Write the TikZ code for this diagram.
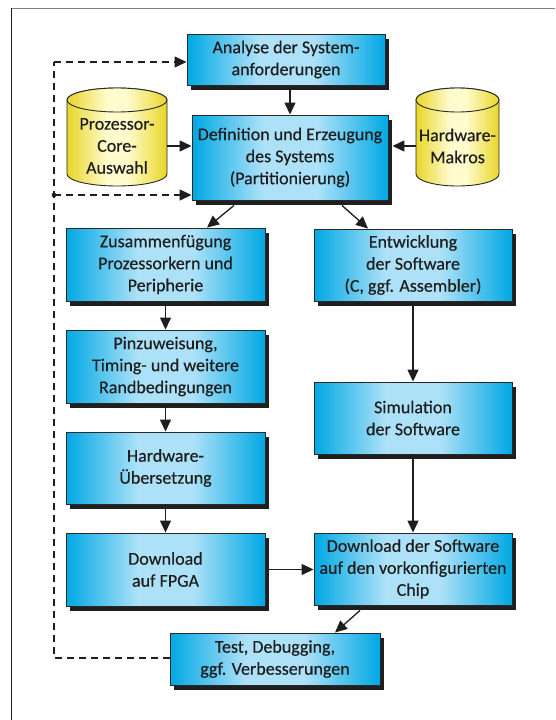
\documentclass[tikz,border=0pt]{standalone}
\usepackage{fontspec}
\setmainfont{Carlito}[FakeBold=0.35]
\usetikzlibrary{arrows.meta,shadows,calc}
\definecolor{cyE}{RGB}{0,168,228}
\definecolor{cyL}{RGB}{172,225,248}
\definecolor{yeE}{RGB}{232,214,40}
\definecolor{yeL}{RGB}{255,251,205}
\definecolor{bdr}{RGB}{40,40,40}
\definecolor{txt}{RGB}{30,30,30}
\pgfdeclarehorizontalshading{boxsh}{100bp}{color(0bp)=(cyE); color(25bp)=(cyE); color(43bp)=(cyL); color(57bp)=(cyL); color(75bp)=(cyE); color(100bp)=(cyE)}
\pgfdeclarehorizontalshading{cylsh}{100bp}{color(0bp)=(yeE); color(25bp)=(yeE); color(45bp)=(yeL); color(55bp)=(yeL); color(75bp)=(yeE); color(100bp)=(yeE)}
\tikzset{
  box/.style={draw=bdr, line width=0.9pt, shade, shading=boxsh,
    general shadow={fill=black!88, shadow xshift=4pt, shadow yshift=-5pt},
    align=center, inner sep=0pt, text=txt, font=\fontsize{18}{22}\selectfont},
  cyltext/.style={align=center, inner sep=0pt, text=txt, font=\fontsize{18}{22}\selectfont},
  cylbody/.style={draw=bdr, line width=0.9pt, shade, shading=cylsh},
  arr/.style={line width=1.3pt, draw=txt, -{Triangle[length=12pt,width=11pt]}},
  fback/.style={line width=1.3pt, draw=txt, dash pattern=on 7pt off 5pt},
  fbackarr/.style={fback, -{Triangle[length=12pt,width=11pt]}}
}
\begin{document}
\begin{tikzpicture}[x=1pt,y=-1pt]
\useasboundingbox (0,0) rectangle (555,720);
% frame
\draw[line width=1.6pt, draw=black!50] (11,8.5) -- (555,8.5);
\draw[line width=1.6pt, draw=txt] (11.5,8) -- (11.5,720);

% cylinders
\path[cylbody] (67,100) -- (67,174) arc[start angle=180, end angle=360, x radius=50pt, y radius=12pt] -- (167,100) arc[start angle=0, end angle=180, x radius=50pt, y radius=12pt] -- cycle;
\path[cylbody] (117,100) ellipse[x radius=50pt, y radius=12pt];
\node[cyltext, minimum width=100pt] (pc) at (117,146) {Prozessor-\\Core-\\Auswahl};

\path[cylbody] (416,100) -- (416,174) arc[start angle=180, end angle=360, x radius=41.5pt, y radius=12pt] -- (499,100) arc[start angle=0, end angle=180, x radius=41.5pt, y radius=12pt] -- cycle;
\path[cylbody] (457.5,100) ellipse[x radius=41.5pt, y radius=12pt];
\node[cyltext, minimum width=83pt] (hm) at (457.5,146) {Hardware-\\Makros};

% boxes
\node[box, minimum width=198pt, minimum height=51pt] (A) at (286,59.5) {Analyse der System-\\anforderungen};
\node[box, minimum width=196pt, minimum height=85pt] (D) at (290,157.5) {Definition und Erzeugung\\des Systems\\(Partitionierung)};
\node[box, minimum width=199pt, minimum height=73pt] (Z) at (165.5,264.5) {Zusammenfügung\\Prozessorkern und\\Peripherie};
\node[box, minimum width=199pt, minimum height=73pt] (P) at (165.5,366.5) {Pinzuweisung,\\Timing- und weitere\\Randbedingungen};
\node[box, minimum width=199pt, minimum height=72pt] (H) at (165.5,468) {Hardware-\\Übersetzung};
\node[box, minimum width=199pt, minimum height=73pt] (F) at (165.5,569.5) {Download\\auf FPGA};
\node[box, minimum width=198pt, minimum height=72pt] (E) at (413,265) {Entwicklung\\der Software\\(C, ggf. Assembler)};
\node[box, minimum width=198pt, minimum height=72pt] (S) at (413,418) {Simulation\\der Software};
\node[box, minimum width=198pt, minimum height=72pt] (W) at (413,569) {Download der Software\\auf den vorkonfigurierten\\Chip};
\node[box, minimum width=210pt, minimum height=52pt] (T) at (275,659) {Test, Debugging,\\ggf. Verbesserungen};

% connectors
\draw[arr] (A.south -| D.north) -- (D.north);
\draw[arr] (pc.east) -- (D.west |- pc.east);
\draw[arr] (hm.west) -- ([xshift=4pt]D.east |- hm.west);
\draw[arr] ([xshift=-56pt,yshift=-5pt]D.south) -- ([xshift=41.5pt]Z.north);
\draw[arr] ([xshift=52pt,yshift=-5pt]D.south) -- ([xshift=-45pt]E.north);
\draw[arr] (Z.south) -- (P.north);
\draw[arr] (P.south) -- (H.north);
\draw[arr] (H.south) -- (F.north);
\draw[arr] (E.south) -- (S.north);
\draw[arr] (S.south) -- (W.north);
\draw[arr] ([xshift=4pt]F.east) -- (W.west |- F.east);
\draw[arr] ([xshift=-53pt,yshift=-5pt]W.south) -- ([xshift=60pt]T.north);

% feedback
\coordinate (dl) at (54,658);
\coordinate (dt) at (54,62);
\coordinate (dm) at (54,195);
\draw[fback] (T.west |- dl) -- (dl) -- (dt);
\draw[fbackarr] (dt) -- (A.west |- dt);
\draw[fbackarr] (dm) -- (D.west |- dm);
\fill[txt] (dm) circle (2.3pt);
\end{tikzpicture}
\end{document}
